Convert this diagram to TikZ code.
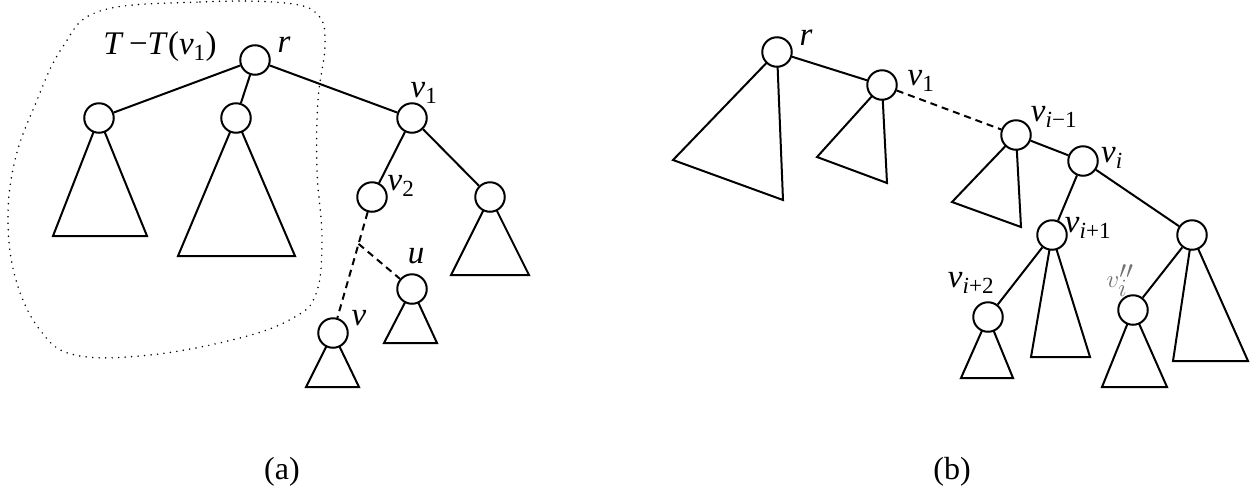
\documentclass[tikz,border=0pt]{standalone}
\usepackage{fontspec}
\setmainfont{Liberation Serif}[ItalicFont={Liberation Serif Italic}]
\newcommand\vsub[1]{\textit{v}\textsubscript{#1}}
\begin{document}
\begin{tikzpicture}[x=1pt,y=-1pt,
  line width=2pt,
  vtx/.style={circle,draw,fill=white,minimum size=29.5pt,inner sep=0pt},
  lab/.style={inner sep=0pt,font=\fontsize{33}{38}\selectfont},
  captext/.style={inner sep=0pt,font=\fontsize{32}{37}\selectfont},
  tri/.style={draw,line join=miter},
  dashedge/.style={dash pattern=on 7pt off 5pt},
  blob/.style={line width=1.7pt,dash pattern=on 0pt off 6.5pt,line cap=round}]
\useasboundingbox (0,0) rectangle (1260,491);
% ---------- (a) ----------
\draw[blob] plot[smooth cycle,tension=0.65] coordinates {(100,11) (200,2) (285,3) (318,15) (325,45) (318,100) (317,170) (322,240) (316,294) (293,318) (240,338) (150,355) (75,355) (40,330) (16,280) (8,220) (15,160) (35,105) (62,48)};
\coordinate (pr) at (255,60);
\coordinate (pa1) at (99,118);
\coordinate (pa2) at (236,118);
\coordinate (pv1) at (412,118);
\coordinate (pv2) at (372,197);
\coordinate (pc) at (490,197);
\coordinate (pu) at (412,289);
\coordinate (pv) at (333,333);
\draw[tri] (pa1) -- (53,236) -- (147,236) -- cycle;
\draw[tri] (pa2) -- (178,256) -- (295,256) -- cycle;
\draw[tri] (pc) -- (451,275) -- (529,275) -- cycle;
\draw[tri] (pu) -- (384,343) -- (437,343) -- cycle;
\draw[tri] (pv) -- (306,387) -- (359,387) -- cycle;
\node[vtx] (r) at (pr) {};
\node[vtx] (a1) at (pa1) {};
\node[vtx] (a2) at (pa2) {};
\node[vtx] (v1) at (pv1) {};
\node[vtx] (v2) at (pv2) {};
\node[vtx] (c) at (pc) {};
\node[vtx] (u) at (pu) {};
\node[vtx] (v) at (pv) {};
\draw (r) -- (a1);
\draw (r) -- (a2);
\draw (r) -- (v1);
\draw (v1) -- (v2);
\draw (v1) -- (c);
\draw[dashedge] (v2) -- (v) coordinate[pos=0.3] (br);
\draw[dashedge] (br) -- (u);
\node[lab,anchor=base] (lT) at (160,54) {\textit{T}\,−\textit{T}(\vsub{1})};
\node[lab] (lr) at (284,45) {\textit{r}};
\node[lab] (lv1) at (424,93) {\vsub{1}};
\node[lab] (lv2) at (401,186) {\vsub{2}};
\node[lab] (lu) at (416,256) {\textit{u}};
\node[lab] (lv) at (359,318) {\textit{v}};
\node[captext] (capa) at (282,472) {(a)};
% ---------- (b) ----------
\coordinate (qr) at (777,52);
\coordinate (qv1) at (882,85);
\coordinate (qvm) at (1016,135);
\coordinate (qvi) at (1083,161);
\coordinate (qvp) at (1052,235);
\coordinate (qw) at (1192,235);
\coordinate (qvpp) at (988,317);
\coordinate (qvs) at (1133,310);
\draw[tri] (qr) -- (673,160) -- (783,200) -- cycle;
\draw[tri] (qv1) -- (817,157) -- (887,183) -- cycle;
\draw[tri] (qvm) -- (952,202) -- (1021,227) -- cycle;
\draw[tri] (qvp) -- (1031,357) -- (1090,357) -- cycle;
\draw[tri] (qw) -- (1173,361) -- (1248,361) -- cycle;
\draw[tri] (qvpp) -- (961,378) -- (1013,378) -- cycle;
\draw[tri] (qvs) -- (1102,387) -- (1167,387) -- cycle;
\node[vtx] (br1) at (qr) {};
\node[vtx] (bv1) at (qv1) {};
\node[vtx] (bvm) at (qvm) {};
\node[vtx] (bvi) at (qvi) {};
\node[vtx] (bvp) at (qvp) {};
\node[vtx] (bw) at (qw) {};
\node[vtx] (bvpp) at (qvpp) {};
\node[vtx] (bvs) at (qvs) {};
\draw (br1) -- (bv1);
\draw[dashedge] (bv1) -- (bvm);
\draw (bvm) -- (bvi);
\draw (bvi) -- (bvp);
\draw (bvi) -- (bw);
\draw (bvp) -- (bvpp);
\draw (bw) -- (bvs);
\node[lab] (mr) at (806,38) {\textit{r}};
\node[lab] (mv1) at (921,81) {\vsub{1}};
\node[lab] (mvm) at (1054,117) {\vsub{\textit{i}−1}};
\node[lab] (mvi) at (1112,158) {\vsub{\textit{i}}};
\node[lab] (mvp) at (1088,228) {\vsub{\textit{i}+1}};
\node[lab] (mvpp) at (971,283) {\vsub{\textit{i}+2}};
\node[lab,text=black!55] (mvs) at (1120,281) {$v_i''$};
\node[captext] (capb) at (952,472) {(b)};
\end{tikzpicture}
\end{document}
